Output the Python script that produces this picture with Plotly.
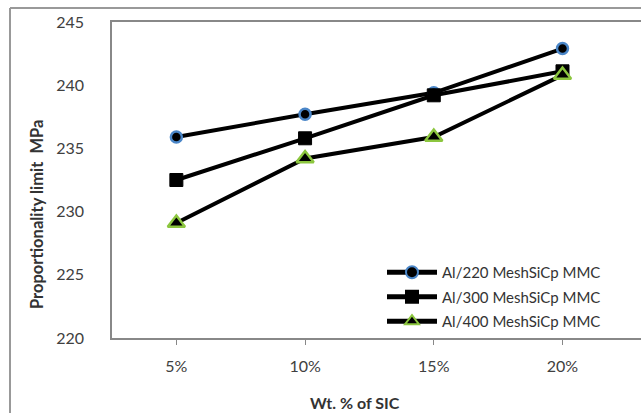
import plotly.graph_objects as go

categories = ["5%", "10%", "15%", "20%"]
s220 = [235.9, 237.7, 239.4, 242.9]
s300 = [232.5, 235.8, 239.2, 241.1]
s400 = [229.1, 234.2, 235.9, 240.8]
names = ["Al/220 MeshSiCp MMC", "Al/300 MeshSiCp MMC", "Al/400 MeshSiCp MMC"]
yticks = [220, 225, 230, 235, 240, 245]
x_title = "Wt. % of SIC"
y_title = "Proportionality limit  MPa"

FONT = "Lato, Open Sans, sans-serif"
W, H = 641, 413
L, T, B = 112, 22, 75
PW, PH = W - L, H - T - B

def px(x):
    return (x - L) / PW

def py(y):
    return (H - B - y) / PH

fig = go.Figure()
fig.add_trace(go.Scatter(
    x=categories, y=s220, name=names[0], mode="lines+markers", legendgroup="a",
    line=dict(color="black", width=4),
    marker=dict(symbol="circle", size=11, color="black", line=dict(color="#4a86c8", width=2.5))))
fig.add_trace(go.Scatter(
    x=categories, y=s300, name=names[1], mode="lines+markers", legendgroup="b",
    line=dict(color="black", width=4),
    marker=dict(symbol="square", size=13, color="black", line=dict(color="black", width=1))))
fig.add_trace(go.Scatter(
    x=categories, y=s400, name=names[2], mode="lines+markers", legendgroup="c",
    line=dict(color="black", width=4),
    marker=dict(symbol="triangle-up", size=15, color="black", line=dict(color="#8cc63f", width=2.5))))

fig.update_layout(
    width=W, height=H,
    margin=dict(l=L, r=0, t=T, b=B),
    paper_bgcolor="white", plot_bgcolor="white",
    font=dict(family=FONT, color="#404040", size=16),
    showlegend=True,
    legend=dict(x=px(382), y=py(256), xanchor="left", yanchor="top",
                bgcolor="rgba(255,255,255,0)", font=dict(size=15, color="#333333", family=FONT),
                tracegroupgap=2, itemwidth=50, itemsizing="constant"),
    xaxis=dict(type="category", range=[-0.5, 3.61], showgrid=False,
               showline=True, linecolor="#888888", linewidth=1.5, mirror=True,
               ticks="outside", ticklen=5, tickcolor="#888888", ticklabelstandoff=8,
               tickfont=dict(size=16, color="#404040")),
    yaxis=dict(range=[220, 245], tickvals=yticks, showgrid=False,
               showline=True, linecolor="#888888", linewidth=1.5,
               ticks="", ticklabelstandoff=23,
               tickfont=dict(size=16, color="#404040")),
    annotations=[
        dict(text="<b>" + x_title + "</b>", xref="paper", yref="paper", x=px(355), y=py(402),
             xanchor="center", yanchor="middle", showarrow=False,
             font=dict(size=16, color="#333333", family=FONT)),
        dict(text="<b>" + y_title + "</b>", xref="paper", yref="paper", x=px(37), y=py(215),
             xanchor="center", yanchor="middle", showarrow=False, textangle=-90,
             font=dict(size=16.5, color="#333333", family=FONT)),
    ],
    shapes=[
        dict(type="line", xref="paper", yref="paper", x0=px(10), x1=1.0, y0=py(8), y1=py(8),
             line=dict(color="#999999", width=2), layer="below"),
        dict(type="line", xref="paper", yref="paper", x0=px(10), x1=px(10), y0=py(8), y1=py(413),
             line=dict(color="#999999", width=2), layer="below"),
    ],
)

fig.write_html("out.html", config={"displayModeBar": False},
               post_script="document.body.style.margin='0';document.body.style.overflow='hidden';")
